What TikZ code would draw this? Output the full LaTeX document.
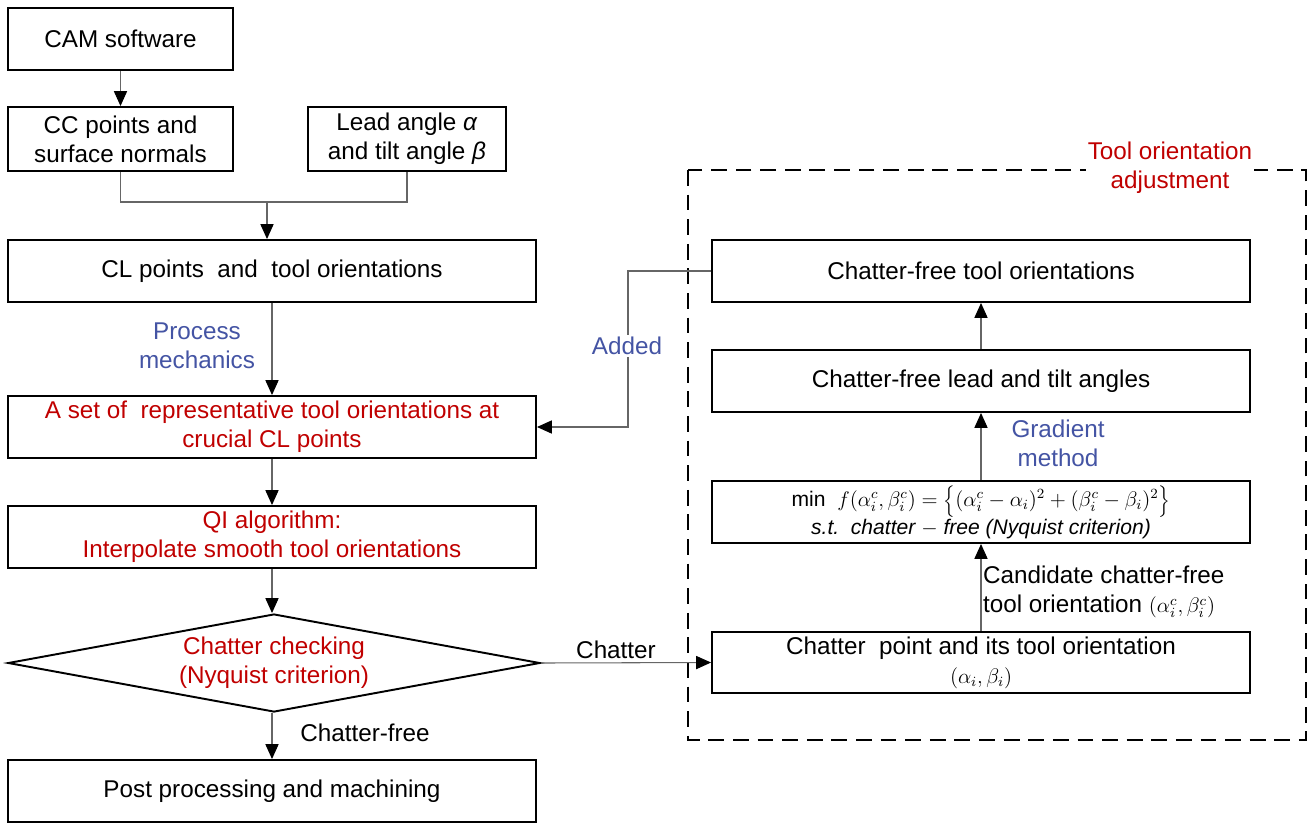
\documentclass[tikz,border=0pt]{standalone}
\usepackage{fontspec}
\setmainfont{Liberation Sans}
\usetikzlibrary{calc,positioning,arrows.meta,shapes.geometric}
\definecolor{redT}{RGB}{192,0,0}
\definecolor{blueT}{RGB}{68,84,164}

\begin{document}
\begin{tikzpicture}[box/.style={draw,line width=1.1pt,minimum height=1.24cm,align=center,inner sep=2pt},
  conn/.style={draw=black!60,line width=0.6pt},
  arr/.style={conn,-{Triangle[black,length=8.5pt,width=7.5pt]}},
  lbl/.style={fill=white,inner sep=1pt,align=center},
  font=\fontsize{13.8}{16.5}\selectfont]
  \useasboundingbox (0,0) rectangle (26.28,-16.48);
  % levy sloupec
  \node[box,minimum width=4.5cm] (cam) at (2.41,-0.78) {CAM software};
  \node[box,minimum width=4.5cm,minimum height=1.28cm] (cc) at (2.41,-2.78) {CC points and\\surface normals};
  \node[box,minimum width=3.96cm,minimum height=1.28cm] (lead) at (8.14,-2.78) {Lead angle \textit{α}\\and tilt angle \textit{β}};
  \node[box,minimum width=10.56cm] (cl) at (5.44,-5.42) {CL points \ and \ tool orientations};
  \node[box,minimum width=10.56cm,text=redT] (set) at (5.44,-8.54) {A set of \ representative tool orientations at\\crucial CL points};
  \node[box,minimum width=10.56cm,text=redT] (qi) at (5.44,-10.74) {QI algorithm:\\Interpolate smooth tool orientations};
  \node[draw,line width=1.1pt,diamond,aspect=5.43,minimum width=10.64cm,minimum height=1.96cm,inner sep=0pt,text=redT,align=center] (dia) at (5.48,-13.26) {Chatter checking\\(Nyquist criterion)};
  \node[box,minimum width=10.56cm] (post) at (5.44,-15.82) {Post processing and machining};
  % pravy sloupec
  \node[box,minimum width=10.76cm] (ori) at (19.62,-5.42) {Chatter-free tool orientations};
  \node[box,minimum width=10.76cm] (lt) at (19.62,-7.62) {Chatter-free lead and tilt angles};
  \node[box,minimum width=10.76cm,font=\fontsize{12}{14}\selectfont] (fx) at (19.62,-10.24) {min \ $f(\alpha_i^c,\beta_i^c)=\Bigl\{(\alpha_i^c-\alpha_i)^2+(\beta_i^c-\beta_i)^2\Bigr\}$\\\textit{s.t.\ \ chatter $-$ free (Nyquist criterion)}};
  \node[box,minimum width=10.76cm,minimum height=1.22cm] (cp) at (19.62,-13.25) {Chatter \ point and its tool orientation\\{\fontsize{12}{14}\selectfont$(\alpha_i,\beta_i)$}};
  % ramecek
  \draw[dashed,line width=1.1pt,dash pattern=on 9pt off 5pt] (13.76,-3.4) rectangle (26.12,-14.8);
  \node[lbl,text=redT] (adj) at (23.4,-3.36) {Tool orientation\\adjustment};
  % spoje
  \coordinate (join) at (5.34,-4.04);
  \draw[conn] (cc.south) |- (join) -| (lead.south);
  \draw[arr] (join) -- (join |- cl.north);
  \draw[arr] (cam) -- (cc);
  \draw[arr] (cl) -- (set);
  \draw[arr] (set) -- (qi);
  \draw[arr] (qi) -- (qi |- dia.north);
  \draw[arr] (qi |- dia.south) -- (post);
  \draw[arr] (dia.east) -- (cp.west);
  \draw[arr] (cp) -- (fx);
  \draw[arr] (fx) -- (lt);
  \draw[arr] (lt) -- (ori);
  \coordinate (addx) at (12.56,-5.42);
  \draw[arr] (ori.west) -- (addx) |- (set.east);
  % popisky
  \node[lbl,text=blueT] (pm) at (3.94,-6.92) {Process\\mechanics};
  \node[lbl,text=blueT] (add) at (12.54,-6.92) {Added};
  \node[lbl,text=blueT] (gm) at (21.16,-8.86) {Gradient\\method};
  \node[lbl] (cf) at (7.3,-14.66) {Chatter-free};
  \node[lbl] (ch) at (12.32,-13.0) {Chatter};
  \node[anchor=west,align=left,inner sep=1pt] (cand) at (19.62,-11.84) {Candidate chatter-free\\tool orientation {\fontsize{12}{14}\selectfont$(\alpha_i^c,\beta_i^c)$}};
\end{tikzpicture}
\end{document}
